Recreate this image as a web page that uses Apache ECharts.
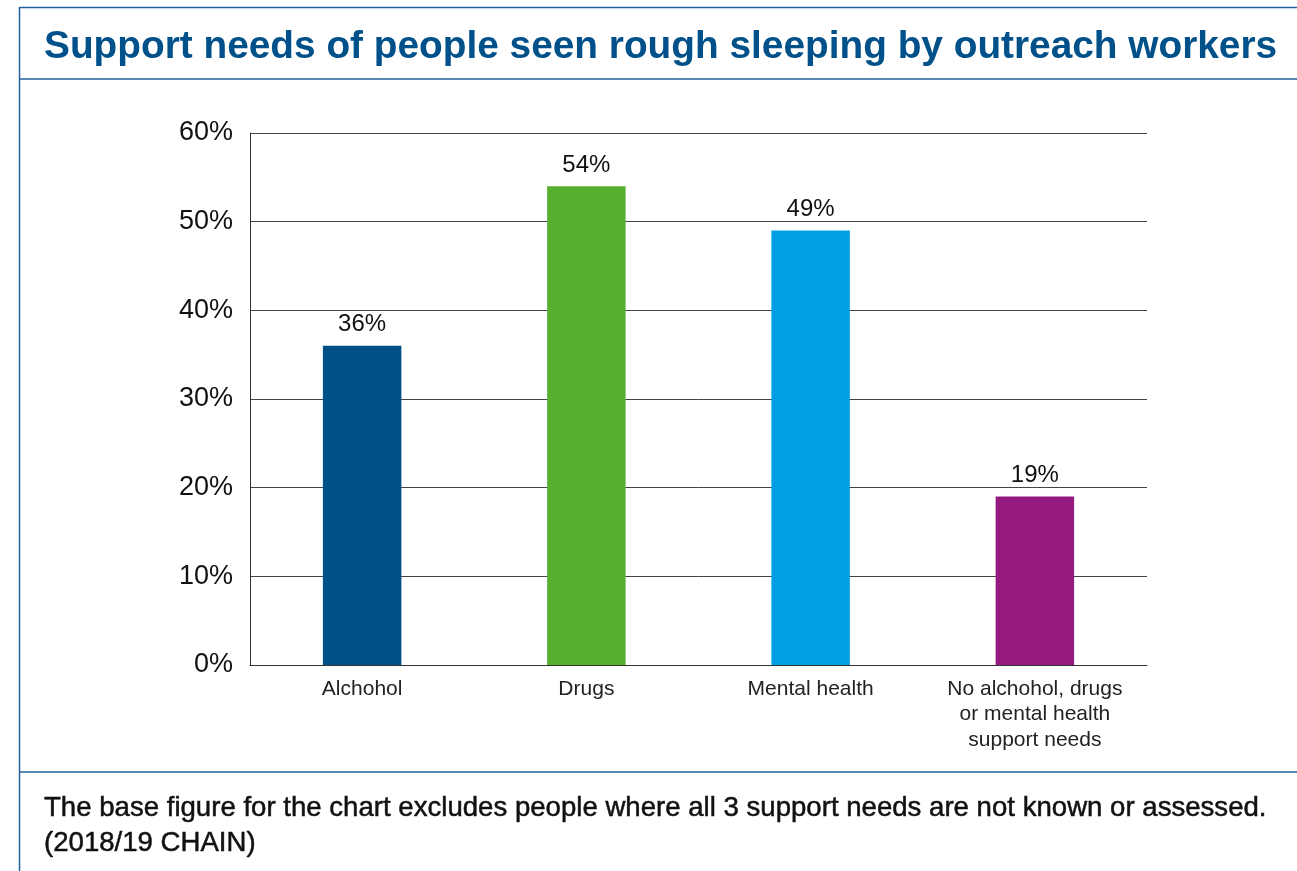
<!DOCTYPE html>
<html>
<head>
<meta charset="utf-8">
<script src="https://cdn.jsdelivr.net/npm/echarts@6/dist/echarts.min.js"></script>
<style>
  html, body { margin: 0; padding: 0; background: #fff; }
  #chart { width: 1297px; height: 871px; }
</style>
</head>
<body>
<div id="chart"></div>
<script>
const categories = ['Alchohol', 'Drugs', 'Mental health', 'No alchohol, drugs\nor mental health\nsupport needs'];
const shares = [36, 54, 49, 19];
const barColors = ['#005087', '#58b031', '#009fe3', '#951b80'];
const yTicks = [0, 10, 20, 30, 40, 50, 60];

const titleText = 'Support needs of people seen rough sleeping by outreach workers';
const noteLines = [
  'The base figure for the chart excludes people where all 3 support needs are not known or assessed.',
  '(2018/19 CHAIN)'
];

const frame = '#22609c';
const font = '"Liberation Sans", Arial, Helvetica, sans-serif';

const chart = echarts.init(document.getElementById('chart'));

// frame lines around the figure
function hline(y, x1, x2) {
  return { type: 'line', shape: { x1: x1, y1: y, x2: x2, y2: y }, style: { stroke: frame, lineWidth: 1.5 } };
}

function textAt(x, y, text, css, fill, stroke) {
  return {
    type: 'text', x: x, y: y,
    style: {
      text: text, font: css, fill: fill, verticalAlign: 'middle', align: 'left',
      stroke: stroke ? fill : null, lineWidth: stroke || 0
    }
  };
}

const options = {
  animation: false,
  textStyle: { fontFamily: font },
  graphic: [
    hline(7.5, 19.5, 1297),
    hline(79, 19.5, 1297),
    hline(772, 19.5, 1297),
    { type: 'line', shape: { x1: 19.5, y1: 7, x2: 19.5, y2: 871 }, style: { stroke: frame, lineWidth: 1.5 } },
    textAt(44, 47, titleText, 'bold 38.8px ' + font, '#00508a'),
    // footer text is a medium weight in the original, thicken it a bit
    textAt(44, 808, noteLines[0], '27.6px ' + font, '#111', 0.5),
    textAt(44, 843, noteLines[1], '27.6px ' + font, '#111', 0.5)
  ],
  grid: { left: 250, right: 150, top: 133, bottom: 206 },
  xAxis: {
    type: 'category',
    data: categories,
    axisTick: { show: false },
    axisLine: { lineStyle: { color: '#333', width: 1 } },
    axisLabel: { fontSize: 21, color: '#222', margin: 11, lineHeight: 25.5, interval: 0 }
  },
  yAxis: {
    type: 'value',
    min: yTicks[0],
    max: yTicks[yTicks.length - 1],
    interval: 10,
    axisLine: { show: true, lineStyle: { color: '#333', width: 1 } },
    axisTick: { show: false },
    splitLine: { lineStyle: { color: '#444', width: 1 } },
    axisLabel: { fontSize: 27, color: '#111', margin: 17, formatter: v => v + '%' }
  },
  series: [{
    type: 'bar',
    barWidth: '35%',
    data: shares.map((v, i) => ({ value: v, itemStyle: { color: barColors[i] } })),
    label: { show: true, position: 'top', distance: 9, fontSize: 24, color: '#111', formatter: p => p.value + '%' }
  }]
};

chart.setOption(options);
</script>
</body>
</html>
